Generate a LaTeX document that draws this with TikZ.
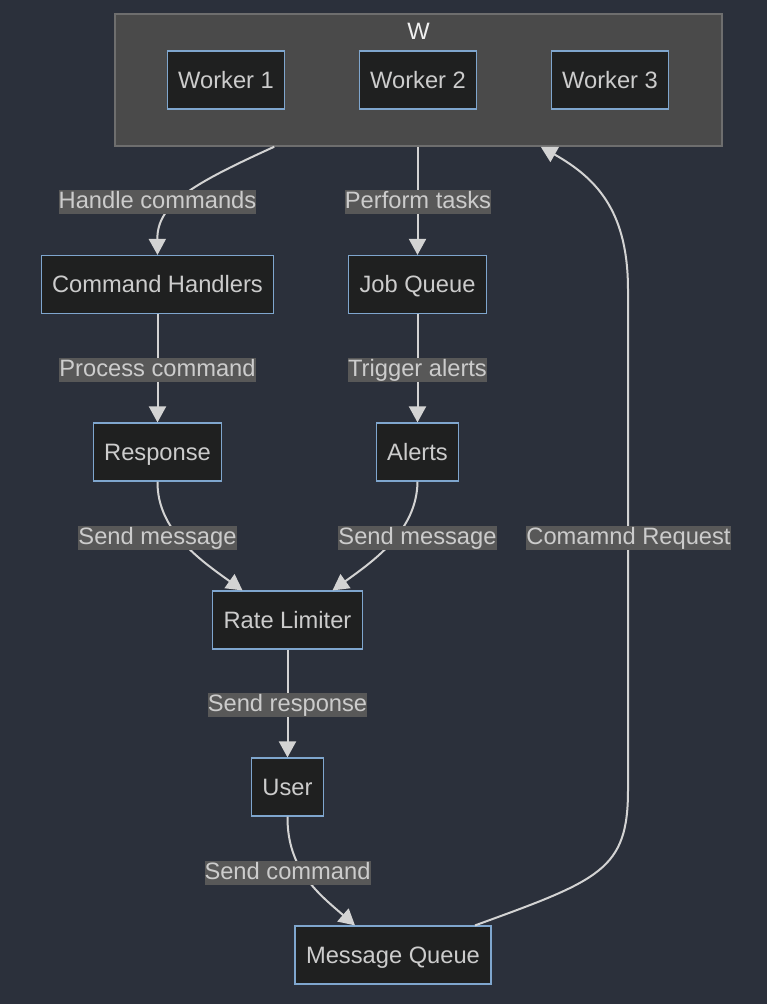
\documentclass[tikz,border=0pt]{standalone}
\usepackage{fontspec}
\setmainfont{Liberation Sans}
\usetikzlibrary{arrows.meta}

\definecolor{bgcol}{HTML}{2B303B}
\definecolor{clfill}{HTML}{4A4A4A}
\definecolor{cldraw}{HTML}{6E6E6E}
\definecolor{boxfill}{HTML}{1F2020}
\definecolor{boxdraw}{HTML}{7FA6CE}
\definecolor{txtcol}{HTML}{CCCCCC}
\definecolor{lblfill}{HTML}{585858}
\definecolor{edgecol}{HTML}{D3D3D3}

\tikzset{
  box/.style={draw=boxdraw, fill=boxfill, line width=1.2pt, text=txtcol,
    minimum height=58pt, inner xsep=11pt, text height=19pt, text depth=3pt,
    font=\fontsize{23.7}{28}\selectfont},
  lbl/.style={fill=lblfill, text=txtcol, inner xsep=0pt, inner ysep=1pt,
    text height=17pt, text depth=5pt, font=\fontsize{23.7}{28}\selectfont},
  edge/.style={draw=edgecol, line width=2pt,
    -{Triangle[length=16pt,width=17pt,fill=edgecol]}},
}

\begin{document}
\begin{tikzpicture}[x=1pt, y=-1pt]
  \fill[bgcol] (0,0) rectangle (767,1004);
  \useasboundingbox (0,0) rectangle (767,1004);

  % cluster W
  \node[draw=cldraw, fill=clfill, line width=1.5pt, minimum width=607pt,
    minimum height=132pt] (W) at (418.5,80) {};
  \node[text=white!94!black, font=\fontsize{23.7}{28}\selectfont] (Wt) at (418.5,31) {W};
  \node[box] (w1) at (226,80) {Worker 1};
  \node[box] (w2) at (418,80) {Worker 2};
  \node[box] (w3) at (610,80) {Worker 3};

  % nodes
  \node[box] (cmd) at (157.5,284.5) {Command Handlers};
  \node[box] (jobq) at (417.5,284.5) {Job Queue};
  \node[box] (resp) at (157.5,452) {Response};
  \node[box] (alerts) at (417.5,452) {Alerts};
  \node[box] (ratel) at (287.5,620) {Rate Limiter};
  \node[box] (user) at (287.5,787) {User};
  \node[box] (mq) at (393,955) {Message Queue};

  % end points on borders
  \coordinate (Wa) at ([xshift=160pt]W.south west);
  \coordinate (Wc) at ([xshift=-182pt]W.south east);
  \coordinate (rl1) at ([xshift=-45pt]ratel.north);
  \coordinate (rl2) at ([xshift=45pt]ratel.north);
  \coordinate (mq1) at ([xshift=-38pt]mq.north);
  \coordinate (mq2) at ([xshift=82pt]mq.north);

  % edges
  \draw[edge] (Wa) .. controls (190,185) and (157,205) .. (cmd.north);
  \draw[edge] (W.south -| jobq.north) -- (jobq.north);
  \draw[edge] (cmd) -- (resp);
  \draw[edge] (jobq) -- (alerts);
  \draw[edge] (resp.south) .. controls (157,530) and (200,560) .. (rl1);
  \draw[edge] (alerts.south) .. controls (417,530) and (375,560) .. (rl2);
  \draw[edge] (ratel) -- (user);
  \draw[edge] (user.south) .. controls (287,870) and (320,895) .. (mq1);
  \draw[edge] (mq2) .. controls (600,880) and (628,870) .. (628,790)
    -- (628,290) .. controls (628,215) and (600,180) .. (Wc);

  % edge labels
  \node[lbl] (l1) at (157.5,202) {Handle commands};
  \node[lbl] (l2) at (418,202) {Perform tasks};
  \node[lbl] (l3) at (157.5,370) {Process command};
  \node[lbl] (l4) at (417.5,370) {Trigger alerts};
  \node[lbl] (l5) at (157.5,538) {Send message};
  \node[lbl] (l6) at (417.5,538) {Send message};
  \node[lbl] (l7) at (628.5,538) {Comamnd Request};
  \node[lbl] (l8) at (287.5,705) {Send response};
  \node[lbl] (l9) at (287.5,873) {Send command};
\end{tikzpicture}
\end{document}
